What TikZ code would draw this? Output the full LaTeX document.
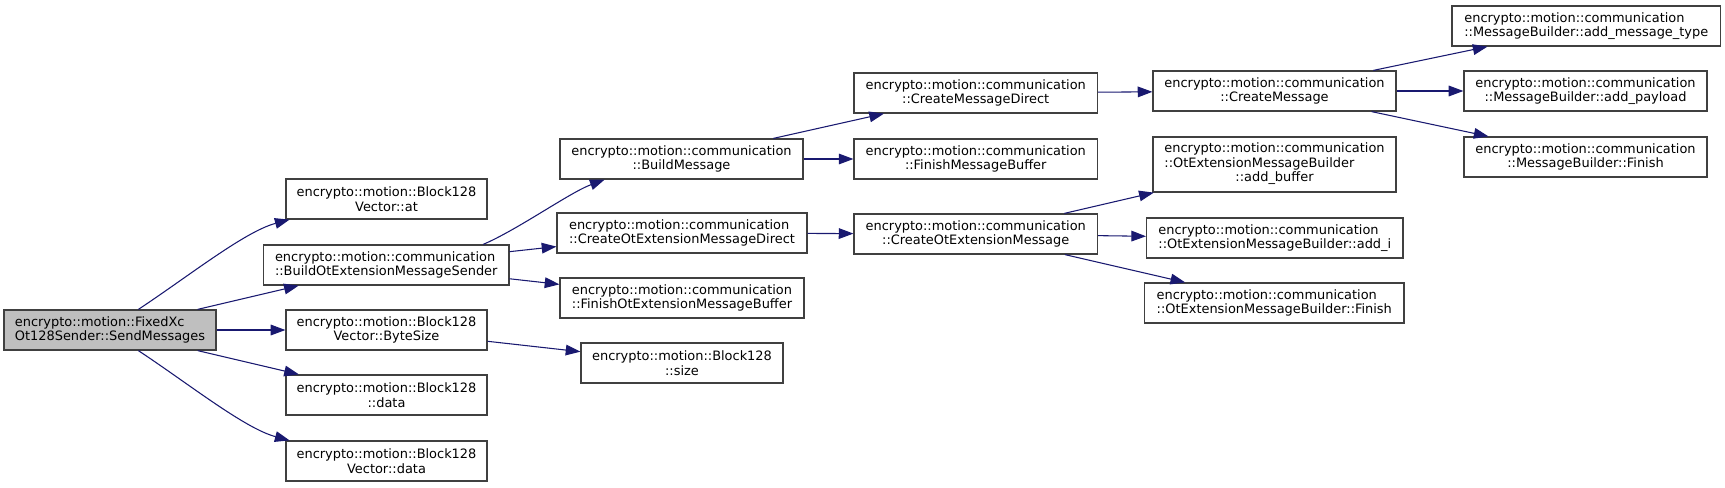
\documentclass[tikz,border=0pt]{standalone}
\usepackage{fontspec}
\setmainfont{DejaVu Sans}
\usepackage{tikz}
\usetikzlibrary{arrows.meta}
\definecolor{callcol}{HTML}{191970}
\definecolor{boxcol}{HTML}{404040}
\definecolor{rootcol}{HTML}{BFBFBF}

\begin{document}
\begin{tikzpicture}[x=0.75pt, y=-0.75pt, >={Triangle[length=11pt, width=8pt]},
    fn/.style={draw=boxcol, line width=0.9pt, fill=white, inner sep=0pt,
               minimum height=30pt, align=center,
               font=\fontsize{9.7}{10.8}\selectfont},
    fnl/.style={fn, align=left},
    call/.style={->, draw=callcol, line width=0.8pt}]

    \useasboundingbox (0,0) rectangle (1725,487);

    % ── Caller ────────────────────────────────────────────────────────────────
    \node[fnl, fill=rootcol, minimum width=159pt] (send) at (110,330)
        {encrypto::motion::FixedXc\\Ot128Sender::SendMessages};

    % ── First level ───────────────────────────────────────────────────────────
    \node[fn, minimum width=150.75pt] (at) at (386.5,199)
        {encrypto::motion::Block128\\Vector::at};
    \node[fnl, minimum width=184pt] (bomsend) at (386.25,265)
        {encrypto::motion::communication\\::BuildOtExtensionMessageSender};
    \node[fn, minimum width=150.75pt] (bytesize) at (386.5,330)
        {encrypto::motion::Block128\\Vector::ByteSize};
    \node[fn, minimum width=150.75pt] (bdata) at (386.5,395)
        {encrypto::motion::Block128\\::data};
    \node[fn, minimum width=150.75pt] (vdata) at (386.5,461)
        {encrypto::motion::Block128\\Vector::data};

    % ── Second level ──────────────────────────────────────────────────────────
    \node[fn, minimum width=182.25pt] (buildmsg) at (681.5,159)
        {encrypto::motion::communication\\::BuildMessage};
    \node[fnl, minimum width=187.5pt] (cotdirect) at (682,233)
        {encrypto::motion::communication\\::CreateOtExtensionMessageDirect};
    \node[fnl, minimum width=183pt] (finishot) at (682,298)
        {encrypto::motion::communication\\::FinishOtExtensionMessageBuffer};
    \node[fn, minimum width=151.5pt] (bsize) at (682,363)
        {encrypto::motion::Block128\\::size};

    % ── Third level ───────────────────────────────────────────────────────────
    \node[fn, minimum width=182.6pt] (cmdirect) at (975.75,93)
        {encrypto::motion::communication\\::CreateMessageDirect};
    \node[fn, minimum width=182.6pt] (finishmsg) at (975.75,159)
        {encrypto::motion::communication\\::FinishMessageBuffer};
    \node[fn, minimum width=182.6pt] (cotmsg) at (975.75,234)
        {encrypto::motion::communication\\::CreateOtExtensionMessage};

    % ── Fourth level ──────────────────────────────────────────────────────────
    \node[fn, minimum width=182.25pt] (cmsg) at (1274.5,91)
        {encrypto::motion::communication\\::CreateMessage};
    \node[fn, minimum width=182.25pt, minimum height=41.25pt] (addbuffer) at (1274.5,164.5)
        {\begin{tabular}{@{}l@{}}encrypto::motion::communication\\::OtExtensionMessageBuilder\\
         \multicolumn{1}{@{}c@{}}{::add\_buffer}\end{tabular}};
    \node[fnl, minimum width=192.3pt] (addi) at (1274.8,238)
        {encrypto::motion::communication\\::OtExtensionMessageBuilder::add\_i};
    \node[fnl, minimum width=194.5pt] (otfinish) at (1274.3,303)
        {encrypto::motion::communication\\::OtExtensionMessageBuilder::Finish};

    % ── Fifth level ───────────────────────────────────────────────────────────
    \node[fnl, minimum width=201.5pt] (addtype) at (1586.3,26)
        {encrypto::motion::communication\\::MessageBuilder::add\_message\_type};
    \node[fn, minimum width=182.25pt] (addpayload) at (1585.5,91)
        {encrypto::motion::communication\\::MessageBuilder::add\_payload};
    \node[fn, minimum width=182.25pt] (mbfinish) at (1585.5,157)
        {encrypto::motion::communication\\::MessageBuilder::Finish};

    % ── Calls ─────────────────────────────────────────────────────────────────
    \draw[call] (send.36) .. controls +(50,-33) and +(-45,12) .. (at.192);
    \draw[call] (send) -- (bomsend);
    \draw[call] (send) -- (bytesize);
    \draw[call] (send) -- (bdata);
    \draw[call] (send.-36) .. controls +(50,33) and +(-45,-12) .. (vdata.168);

    \draw[call] (bomsend.12) .. controls +(35,-15) and +(-35,13) .. (buildmsg.195);
    \draw[call] (bomsend) -- (cotdirect);
    \draw[call] (bomsend) -- (finishot);
    \draw[call] (bytesize) -- (bsize);

    \draw[call] (buildmsg) -- (cmdirect);
    \draw[call] (buildmsg) -- (finishmsg);
    \draw[call] (cotdirect) -- (cotmsg);

    \draw[call] (cmdirect) -- (cmsg);
    \draw[call] (cotmsg) -- (addbuffer);
    \draw[call] (cotmsg) -- (addi);
    \draw[call] (cotmsg) -- (otfinish);

    \draw[call] (cmsg) -- (addtype);
    \draw[call] (cmsg) -- (addpayload);
    \draw[call] (cmsg) -- (mbfinish);

\end{tikzpicture}
\end{document}
